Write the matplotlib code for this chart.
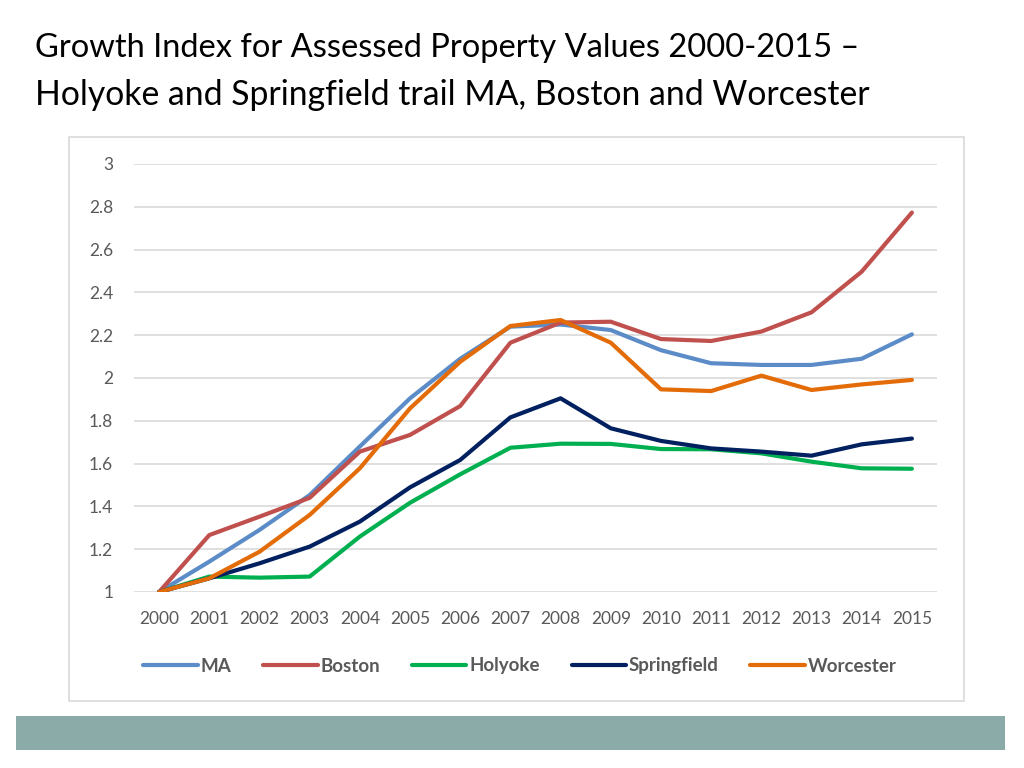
import matplotlib.pyplot as plt
from matplotlib.patches import Rectangle

years = list(range(2000, 2016))
ma = [1.0, 1.142, 1.29, 1.453, 1.68, 1.905, 2.09, 2.24, 2.25, 2.224, 2.13, 2.069, 2.061, 2.061, 2.09, 2.204]
boston = [1.0, 1.266, 1.352, 1.44, 1.656, 1.734, 1.869, 2.165, 2.259, 2.263, 2.182, 2.173, 2.217, 2.307, 2.497, 2.773]
holyoke = [1.0, 1.072, 1.067, 1.072, 1.259, 1.417, 1.55, 1.674, 1.693, 1.692, 1.668, 1.667, 1.648, 1.609, 1.578, 1.576]
springfield = [1.0, 1.064, 1.134, 1.212, 1.329, 1.489, 1.617, 1.816, 1.905, 1.765, 1.706, 1.671, 1.656, 1.637, 1.69, 1.717]
worcester = [1.0, 1.064, 1.188, 1.36, 1.578, 1.858, 2.076, 2.243, 2.271, 2.165, 1.947, 1.939, 2.011, 1.944, 1.97, 1.991]

names = ['MA', 'Boston', 'Holyoke', 'Springfield', 'Worcester']
colors = ['#5B8CC8', '#C0504D', '#00B050', '#002060', '#E36C09']

plt.rcParams['font.family'] = ['Lato', 'DejaVu Sans']

W, H = 1024, 768
fig = plt.figure(figsize=(10.24, 7.68), dpi=100)

# title
fig.text(35 / W, 1 - 48 / H, 'Growth Index for Assessed Property Values 2000-2015 \u2013',
         fontsize=23.5, va='center', ha='left', color='black')
fig.text(35 / W, 1 - 95 / H, 'Holyoke and Springfield trail MA, Boston and Worcester',
         fontsize=24.3, va='center', ha='left', color='black')

# chart frame
fig.patches.append(Rectangle((69 / W, 1 - 701 / H), (964 - 69) / W, (701 - 137) / H,
                             transform=fig.transFigure, fill=False, edgecolor='#D9D9D9', lw=1.2))
# bottom band
fig.patches.append(Rectangle((16 / W, 1 - 750 / H), (1005 - 16) / W, (750 - 716) / H,
                             transform=fig.transFigure, facecolor='#8AABA8', edgecolor='none'))

ax = fig.add_axes([134 / W, 1 - 592 / H, (937 - 134) / W, (592 - 164) / H])
series = [ma, boston, holyoke, springfield, worcester]
for vals, name, c in zip(series, names, colors):
    ax.plot(years, vals, color=c, lw=3, label=name, solid_capstyle='round', solid_joinstyle='round')

ax.set_xlim(1999.5, 2015.5)
ax.set_ylim(1, 3)
ax.set_yticks([1, 1.2, 1.4, 1.6, 1.8, 2, 2.2, 2.4, 2.6, 2.8, 3])
ax.set_yticklabels(['1', '1.2', '1.4', '1.6', '1.8', '2', '2.2', '2.4', '2.6', '2.8', '3'])
ax.set_xticks(years)
ax.set_xticklabels([str(y) for y in years])
ax.grid(axis='y', color='#D9D9D9', lw=1.2)
ax.set_axisbelow(True)
for s in ax.spines.values():
    s.set_visible(False)
ax.tick_params(length=0, labelsize=12.5, colors='#595959')
ax.tick_params(axis='y', pad=15)
ax.tick_params(axis='x', pad=14)

leg = ax.legend(loc='center', bbox_to_anchor=(520 / W, 1 - 666 / H), bbox_transform=fig.transFigure,
                ncol=5, frameon=False, handlelength=2.9, handletextpad=0.15, columnspacing=1.7,
                prop={'weight': 'bold', 'size': 13.5})
for t in leg.get_texts():
    t.set_color('#595959')

fig.savefig('out.png', dpi=100)
